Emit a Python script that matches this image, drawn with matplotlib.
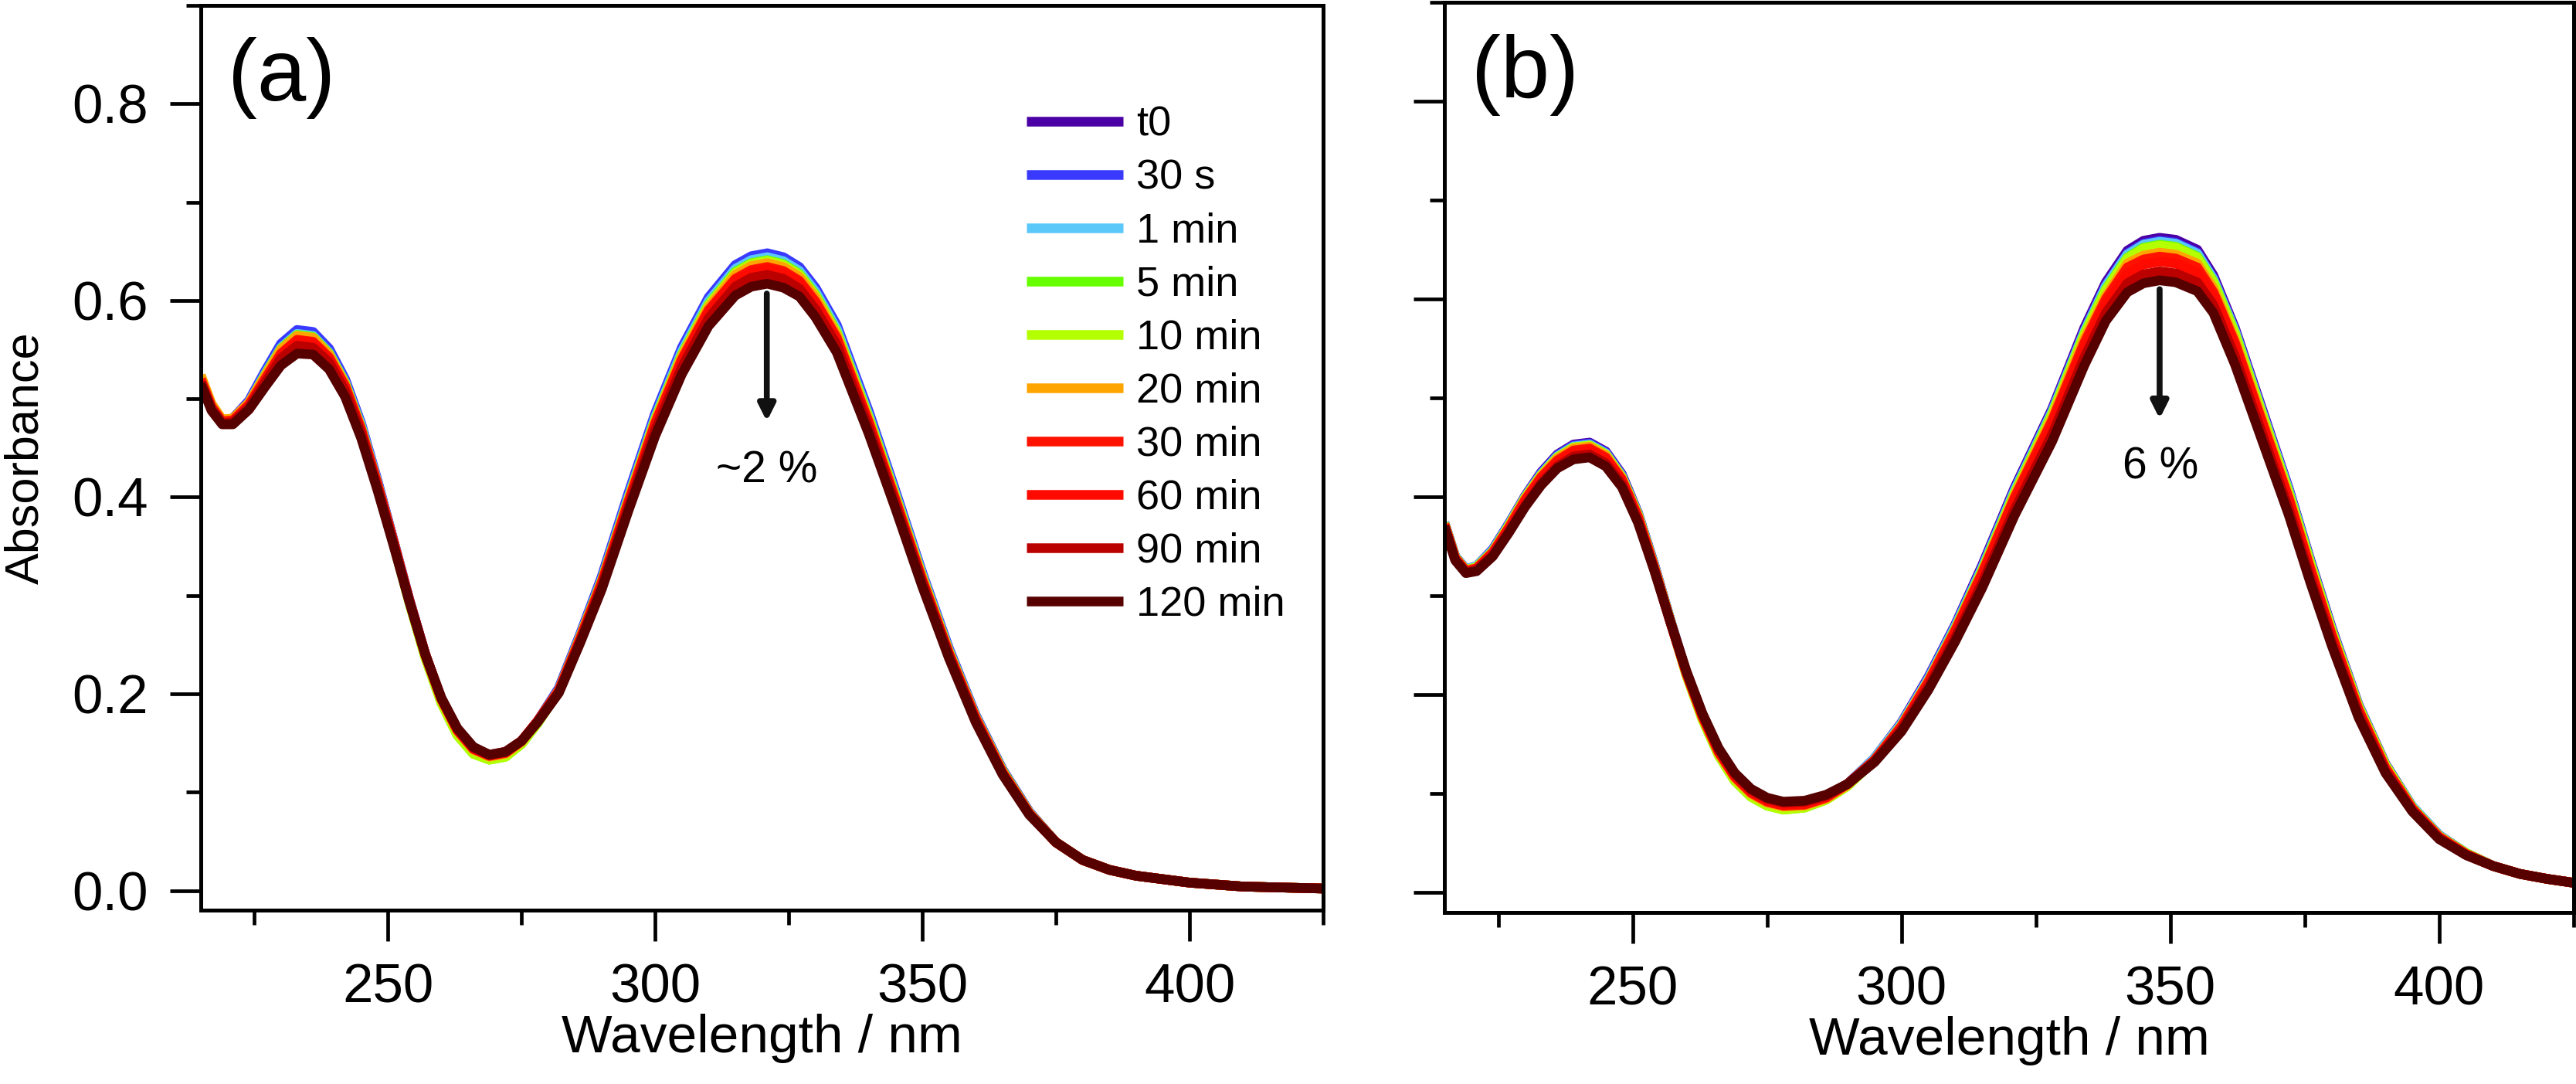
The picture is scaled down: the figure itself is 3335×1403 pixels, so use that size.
import matplotlib
matplotlib.use("Agg")
import matplotlib.pyplot as plt
from matplotlib.ticker import MultipleLocator, FormatStrFormatter

plt.rcParams['font.family'] = ['Liberation Sans', 'DejaVu Sans']

labels = ["t0", "30 s", "1 min", "5 min", "10 min", "20 min", "30 min", "60 min", "90 min", "120 min"]
colors = ["#4b00a5", "#3a3aff", "#5ac8f8", "#66ff00", "#b4ff00", "#ffa500", "#ff1200", "#ff0a00", "#bb0000", "#560000"]

# panel (a)
wl_a = [215, 217, 219, 221, 224, 227, 230, 233, 236, 239, 242, 245, 248, 251, 254, 257, 260, 263, 266, 269,
        272, 275, 278, 282, 286, 290, 295, 300, 305, 310, 315, 318, 321, 324, 327, 330, 334, 340, 345, 350,
        355, 360, 365, 370, 375, 380, 385, 390, 400, 410, 425]
abs_a = [
    [0.520, 0.492, 0.478, 0.480, 0.497, 0.526, 0.554, 0.568, 0.566, 0.549, 0.519, 0.474, 0.417, 0.357, 0.296, 0.240,
     0.194, 0.161, 0.142, 0.135, 0.138, 0.151, 0.172, 0.205, 0.260, 0.318, 0.402, 0.483, 0.550, 0.601, 0.634, 0.643,
     0.646, 0.642, 0.632, 0.611, 0.573, 0.485, 0.405, 0.322, 0.245, 0.178, 0.123, 0.080, 0.049, 0.031, 0.021, 0.015,
     0.008, 0.004, 0.002],
    [0.520, 0.492, 0.478, 0.480, 0.498, 0.528, 0.556, 0.570, 0.568, 0.551, 0.520, 0.475, 0.418, 0.357, 0.296, 0.240,
     0.194, 0.161, 0.142, 0.135, 0.138, 0.151, 0.172, 0.206, 0.261, 0.319, 0.404, 0.485, 0.552, 0.603, 0.636, 0.645,
     0.648, 0.644, 0.634, 0.613, 0.575, 0.487, 0.406, 0.323, 0.246, 0.178, 0.123, 0.080, 0.049, 0.031, 0.021, 0.015,
     0.008, 0.004, 0.002],
    [0.519, 0.491, 0.477, 0.479, 0.496, 0.525, 0.552, 0.566, 0.564, 0.547, 0.517, 0.473, 0.416, 0.356, 0.295, 0.239,
     0.193, 0.160, 0.141, 0.134, 0.137, 0.150, 0.171, 0.204, 0.259, 0.316, 0.400, 0.481, 0.548, 0.599, 0.632, 0.641,
     0.644, 0.640, 0.630, 0.609, 0.571, 0.483, 0.403, 0.321, 0.244, 0.177, 0.122, 0.079, 0.049, 0.031, 0.021, 0.015,
     0.008, 0.004, 0.002],
    [0.518, 0.490, 0.476, 0.478, 0.495, 0.524, 0.551, 0.565, 0.563, 0.546, 0.516, 0.471, 0.414, 0.354, 0.293, 0.237,
     0.191, 0.158, 0.139, 0.133, 0.136, 0.149, 0.170, 0.203, 0.258, 0.315, 0.398, 0.479, 0.545, 0.596, 0.629, 0.638,
     0.641, 0.637, 0.627, 0.606, 0.568, 0.481, 0.401, 0.319, 0.243, 0.176, 0.122, 0.079, 0.049, 0.031, 0.021, 0.015,
     0.008, 0.004, 0.002],
    [0.519, 0.491, 0.476, 0.478, 0.495, 0.523, 0.550, 0.564, 0.562, 0.545, 0.515, 0.470, 0.414, 0.354, 0.293, 0.237,
     0.191, 0.158, 0.139, 0.133, 0.136, 0.149, 0.170, 0.203, 0.257, 0.314, 0.397, 0.478, 0.544, 0.595, 0.628, 0.637,
     0.640, 0.636, 0.626, 0.605, 0.567, 0.480, 0.400, 0.319, 0.243, 0.176, 0.121, 0.079, 0.049, 0.031, 0.021, 0.015,
     0.008, 0.004, 0.002],
    [0.524, 0.495, 0.479, 0.480, 0.496, 0.523, 0.550, 0.564, 0.562, 0.545, 0.515, 0.470, 0.415, 0.356, 0.295, 0.239,
     0.194, 0.162, 0.143, 0.136, 0.139, 0.151, 0.172, 0.204, 0.258, 0.314, 0.397, 0.477, 0.543, 0.593, 0.626, 0.635,
     0.638, 0.634, 0.624, 0.603, 0.565, 0.478, 0.399, 0.318, 0.242, 0.176, 0.121, 0.079, 0.049, 0.031, 0.021, 0.015,
     0.008, 0.004, 0.002],
    [0.520, 0.492, 0.477, 0.478, 0.494, 0.520, 0.546, 0.560, 0.558, 0.542, 0.513, 0.469, 0.414, 0.356, 0.295, 0.240,
     0.195, 0.163, 0.144, 0.137, 0.140, 0.152, 0.172, 0.203, 0.256, 0.313, 0.395, 0.475, 0.540, 0.590, 0.622, 0.631,
     0.634, 0.630, 0.620, 0.599, 0.562, 0.476, 0.397, 0.316, 0.241, 0.175, 0.120, 0.078, 0.049, 0.031, 0.021, 0.015,
     0.008, 0.004, 0.002],
    [0.519, 0.491, 0.476, 0.477, 0.493, 0.519, 0.545, 0.559, 0.557, 0.541, 0.512, 0.468, 0.413, 0.355, 0.295, 0.240,
     0.195, 0.163, 0.144, 0.137, 0.140, 0.152, 0.172, 0.203, 0.256, 0.312, 0.394, 0.473, 0.538, 0.588, 0.620, 0.629,
     0.632, 0.628, 0.618, 0.597, 0.560, 0.474, 0.396, 0.315, 0.240, 0.174, 0.120, 0.078, 0.049, 0.031, 0.021, 0.015,
     0.008, 0.004, 0.002],
    [0.517, 0.490, 0.475, 0.476, 0.491, 0.516, 0.541, 0.554, 0.552, 0.537, 0.508, 0.465, 0.411, 0.354, 0.295, 0.240,
     0.195, 0.164, 0.145, 0.138, 0.141, 0.152, 0.172, 0.202, 0.254, 0.309, 0.390, 0.468, 0.532, 0.582, 0.614, 0.623,
     0.626, 0.622, 0.612, 0.591, 0.555, 0.470, 0.393, 0.313, 0.239, 0.173, 0.119, 0.078, 0.049, 0.031, 0.021, 0.015,
     0.008, 0.004, 0.002],
    [0.515, 0.488, 0.474, 0.474, 0.489, 0.512, 0.534, 0.546, 0.545, 0.530, 0.502, 0.460, 0.408, 0.352, 0.294, 0.240,
     0.196, 0.165, 0.146, 0.138, 0.141, 0.152, 0.171, 0.201, 0.252, 0.306, 0.386, 0.462, 0.525, 0.574, 0.605, 0.614,
     0.617, 0.613, 0.604, 0.583, 0.547, 0.464, 0.388, 0.309, 0.236, 0.171, 0.118, 0.077, 0.049, 0.031, 0.021, 0.015,
     0.008, 0.004, 0.002],
]

# panel (b)
wl_b = [215, 217, 219, 221, 224, 227, 230, 233, 236, 239, 242, 245, 248, 251, 254, 257, 260, 263, 266, 269,
        272, 275, 278, 282, 286, 290, 295, 300, 305, 310, 315, 321, 328, 334, 338, 342, 345, 348, 351, 355,
        358, 362, 367, 372, 376, 380, 385, 390, 395, 400, 405, 410, 415, 420, 425]
abs_b = [
    [0.374, 0.340, 0.327, 0.330, 0.347, 0.373, 0.401, 0.425, 0.443, 0.453, 0.455, 0.446, 0.423, 0.384, 0.332, 0.276,
     0.222, 0.177, 0.141, 0.115, 0.099, 0.090, 0.086, 0.088, 0.096, 0.110, 0.136, 0.172, 0.218, 0.271, 0.331, 0.409,
     0.489, 0.571, 0.617, 0.649, 0.659, 0.662, 0.660, 0.650, 0.624, 0.571, 0.490, 0.409, 0.337, 0.268, 0.190, 0.130,
     0.087, 0.058, 0.040, 0.027, 0.019, 0.014, 0.010],
    [0.374, 0.340, 0.327, 0.330, 0.347, 0.373, 0.400, 0.424, 0.442, 0.452, 0.454, 0.445, 0.422, 0.383, 0.332, 0.276,
     0.222, 0.177, 0.141, 0.115, 0.099, 0.090, 0.086, 0.088, 0.096, 0.110, 0.136, 0.171, 0.217, 0.270, 0.329, 0.407,
     0.487, 0.568, 0.614, 0.646, 0.656, 0.659, 0.657, 0.647, 0.621, 0.569, 0.488, 0.408, 0.336, 0.267, 0.189, 0.130,
     0.087, 0.058, 0.040, 0.027, 0.019, 0.014, 0.010],
    [0.374, 0.340, 0.327, 0.330, 0.346, 0.372, 0.400, 0.423, 0.441, 0.451, 0.453, 0.444, 0.421, 0.383, 0.331, 0.276,
     0.222, 0.177, 0.141, 0.115, 0.099, 0.090, 0.086, 0.088, 0.096, 0.110, 0.136, 0.171, 0.216, 0.269, 0.328, 0.406,
     0.486, 0.567, 0.613, 0.645, 0.655, 0.658, 0.656, 0.646, 0.620, 0.568, 0.487, 0.407, 0.335, 0.266, 0.189, 0.129,
     0.087, 0.058, 0.040, 0.027, 0.019, 0.014, 0.010],
    [0.373, 0.339, 0.326, 0.329, 0.345, 0.371, 0.399, 0.422, 0.440, 0.450, 0.452, 0.443, 0.420, 0.382, 0.330, 0.275,
     0.220, 0.175, 0.139, 0.113, 0.097, 0.088, 0.084, 0.086, 0.094, 0.108, 0.134, 0.169, 0.214, 0.267, 0.326, 0.404,
     0.484, 0.565, 0.610, 0.642, 0.652, 0.655, 0.653, 0.643, 0.618, 0.566, 0.485, 0.405, 0.334, 0.265, 0.188, 0.129,
     0.086, 0.057, 0.040, 0.027, 0.019, 0.014, 0.010],
    [0.373, 0.339, 0.326, 0.329, 0.345, 0.371, 0.399, 0.422, 0.440, 0.450, 0.452, 0.443, 0.420, 0.382, 0.330, 0.275,
     0.220, 0.175, 0.139, 0.113, 0.097, 0.088, 0.084, 0.086, 0.094, 0.108, 0.134, 0.169, 0.214, 0.266, 0.325, 0.403,
     0.483, 0.564, 0.609, 0.641, 0.651, 0.654, 0.652, 0.642, 0.617, 0.565, 0.485, 0.404, 0.333, 0.265, 0.188, 0.129,
     0.086, 0.057, 0.040, 0.027, 0.019, 0.014, 0.010],
    [0.373, 0.339, 0.326, 0.328, 0.344, 0.370, 0.398, 0.421, 0.439, 0.449, 0.451, 0.442, 0.419, 0.381, 0.330, 0.275,
     0.221, 0.177, 0.141, 0.116, 0.100, 0.091, 0.087, 0.088, 0.095, 0.109, 0.134, 0.169, 0.214, 0.266, 0.324, 0.401,
     0.480, 0.560, 0.603, 0.636, 0.644, 0.647, 0.645, 0.636, 0.611, 0.559, 0.480, 0.401, 0.330, 0.262, 0.186, 0.127,
     0.085, 0.057, 0.039, 0.027, 0.019, 0.014, 0.010],
    [0.372, 0.338, 0.325, 0.328, 0.344, 0.369, 0.397, 0.420, 0.437, 0.447, 0.449, 0.440, 0.418, 0.380, 0.329, 0.274,
     0.222, 0.178, 0.142, 0.117, 0.101, 0.092, 0.088, 0.089, 0.096, 0.110, 0.134, 0.168, 0.213, 0.265, 0.323, 0.399,
     0.477, 0.556, 0.600, 0.632, 0.640, 0.643, 0.641, 0.632, 0.607, 0.556, 0.477, 0.399, 0.328, 0.261, 0.185, 0.126,
     0.085, 0.056, 0.039, 0.027, 0.019, 0.014, 0.010],
    [0.372, 0.338, 0.325, 0.327, 0.343, 0.368, 0.395, 0.418, 0.435, 0.445, 0.447, 0.438, 0.416, 0.378, 0.328, 0.274,
     0.222, 0.178, 0.143, 0.118, 0.102, 0.093, 0.089, 0.090, 0.097, 0.110, 0.134, 0.168, 0.212, 0.263, 0.320, 0.395,
     0.472, 0.551, 0.595, 0.626, 0.635, 0.638, 0.636, 0.627, 0.603, 0.551, 0.473, 0.395, 0.325, 0.258, 0.183, 0.125,
     0.084, 0.056, 0.039, 0.027, 0.019, 0.014, 0.010],
    [0.371, 0.337, 0.324, 0.326, 0.341, 0.365, 0.391, 0.414, 0.431, 0.441, 0.443, 0.434, 0.413, 0.376, 0.327, 0.274,
     0.223, 0.180, 0.145, 0.120, 0.104, 0.095, 0.091, 0.092, 0.098, 0.110, 0.133, 0.165, 0.208, 0.258, 0.313, 0.387,
     0.463, 0.541, 0.586, 0.616, 0.625, 0.628, 0.626, 0.617, 0.594, 0.542, 0.465, 0.388, 0.319, 0.254, 0.180, 0.123,
     0.083, 0.055, 0.038, 0.027, 0.019, 0.014, 0.010],
    [0.370, 0.336, 0.323, 0.325, 0.340, 0.364, 0.390, 0.412, 0.429, 0.438, 0.440, 0.431, 0.410, 0.374, 0.326, 0.274,
     0.224, 0.181, 0.146, 0.121, 0.105, 0.096, 0.092, 0.093, 0.099, 0.110, 0.132, 0.163, 0.205, 0.254, 0.308, 0.381,
     0.456, 0.533, 0.578, 0.607, 0.616, 0.619, 0.617, 0.608, 0.586, 0.534, 0.458, 0.382, 0.314, 0.250, 0.177, 0.121,
     0.082, 0.054, 0.038, 0.027, 0.019, 0.014, 0.010],
]

W, H = 3335, 1403
fig = plt.figure(figsize=(W / 100, H / 100), dpi=100)
ax_a = fig.add_axes([260 / W, 225 / H, 1453 / W, 1171 / H])
ax_b = fig.add_axes([1870 / W, 222 / H, 1462 / W, 1178 / H])

LW = 9

for ax, wl, data in [(ax_a, wl_a, abs_a), (ax_b, wl_b, abs_b)]:
    for vals, c, lab in zip(data, colors, labels):
        ax.plot(wl, vals, color=c, lw=LW, label=lab, solid_capstyle='butt', solid_joinstyle='round')
    ax.set_xlim(215, 425)
    ax.set_ylim(-0.02, 0.9)
    ax.xaxis.set_major_locator(MultipleLocator(50))
    ax.xaxis.set_minor_locator(MultipleLocator(25))
    ax.yaxis.set_major_locator(MultipleLocator(0.2))
    ax.yaxis.set_minor_locator(MultipleLocator(0.1))
    ax.yaxis.set_major_formatter(FormatStrFormatter('%.1f'))
    for s in ax.spines.values():
        s.set_linewidth(3.6)
    ax.tick_params(which='both', direction='out', width=3.4, top=False, right=False)
    ax.tick_params(which='major', length=29, labelsize=51, pad=20)
    ax.tick_params(which='minor', length=14)
    ax.set_xlabel("Wavelength / nm", fontsize=50, labelpad=0)

ax_a.set_ylabel("Absorbance", fontsize=44, labelpad=22)
ax_b.tick_params(axis='y', labelleft=False)

ax_a.text(0.024, 0.92, "(a)", transform=ax_a.transAxes, fontsize=82, va='center', ha='left')
ax_b.text(0.024, 0.92, "(b)", transform=ax_b.transAxes, fontsize=82, va='center', ha='left')

arrow = dict(arrowstyle='-|>', color='#111111', lw=5.5, mutation_scale=32, shrinkA=0, shrinkB=0)
ax_a.annotate("", xy=(320.9, 0.477), xytext=(320.9, 0.607), arrowprops=arrow)
ax_a.text(320.9, 0.427, "~2 %", fontsize=41, ha='center', va='center')
ax_b.annotate("", xy=(348.0, 0.479), xytext=(348.0, 0.610), arrowprops=arrow)
ax_b.text(348.2, 0.430, "6 %", fontsize=41, ha='center', va='center')

ax_a.legend(loc='upper left', bbox_to_anchor=(0.7357, 0.889), frameon=False, fontsize=39,
            handlelength=2.3, handletextpad=0.33, labelspacing=0.35, borderpad=0, borderaxespad=0)

fig.savefig("out.png", dpi=100)
